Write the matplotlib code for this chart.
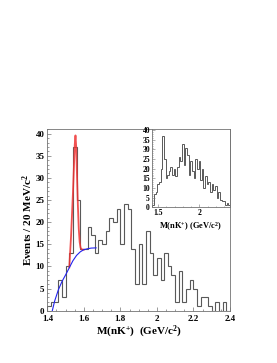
import numpy as np
import matplotlib
matplotlib.use("Agg")
import matplotlib.pyplot as plt
from matplotlib.ticker import MultipleLocator

plt.rcParams['font.family'] = ['Liberation Serif', 'DejaVu Serif']
plt.rcParams['font.weight'] = 'bold'
plt.rcParams['axes.labelweight'] = 'bold'
plt.rcParams['mathtext.fontset'] = 'custom'
plt.rcParams['mathtext.rm'] = 'Liberation Serif:bold'
plt.rcParams['mathtext.it'] = 'Liberation Serif:bold'
plt.rcParams['mathtext.bf'] = 'Liberation Serif:bold'

# main histogram, 20 MeV bins from 1.40 to 2.40
main_lo = 1.40
main_bin = 0.02
main_counts = [1, 2, 2, 7, 3, 10, 13, 37, 25, 14,
               14, 19, 17, 13, 16, 15, 18, 21, 20, 23,
               15, 24, 23, 14, 6, 15, 6, 18, 13, 8,
               12, 7, 13, 10, 8, 2, 9, 2, 5, 7,
               5, 1, 3, 3, 1, 0, 2, 0, 2, 0]

# inset histogram
inset_lo = 1.43
inset_bin = 0.02
inset_counts = [1, 7, 8, 12, 13, 20, 37, 25, 15, 17,
                19, 21, 17, 20, 16, 21, 26, 24, 33, 22,
                31, 27, 17, 24, 19, 15, 25, 20, 24, 14,
                20, 10, 16, 12, 13, 8, 12, 9, 11, 5,
                8, 4, 3, 3, 1, 2, 1]

# fit curves
sig_x = [1.520, 1.530, 1.540, 1.545, 1.550, 1.554, 1.558, 1.562,
         1.567, 1.572, 1.577, 1.582, 1.590, 1.600]
sig_y = [9.8, 17.0, 26.5, 32.0, 37.5, 39.6, 37.0, 31.0,
         24.0, 18.5, 15.5, 14.2, 13.8, 13.8]
bkg_x = [1.427, 1.44, 1.46, 1.48, 1.50, 1.52, 1.54, 1.56, 1.58,
         1.60, 1.62, 1.64, 1.667]
bkg_y = [0.0, 2.2, 4.7, 6.6, 8.1, 9.7, 11.3, 12.5, 13.3,
         13.8, 14.0, 14.15, 14.2]

hist_col = '0.35'
frame_col = '0.45'

fig = plt.figure(figsize=(2.77, 3.63), dpi=100)
ax = fig.add_axes([0.171, 0.144, 0.659, 0.500])

edges = main_lo + main_bin * np.arange(len(main_counts) + 1)
ax.stairs(main_counts, edges, color=hist_col, lw=0.8, baseline=0)
ax.plot(sig_x, sig_y, color='#ee3333', lw=1.3, alpha=0.85)
ax.plot(bkg_x, bkg_y, color='#2222ee', lw=0.8)

ax.set_xlim(1.4, 2.4)
ax.set_ylim(0, 41)
ax.xaxis.set_major_locator(MultipleLocator(0.2))
ax.xaxis.set_minor_locator(MultipleLocator(0.05))
ax.yaxis.set_major_locator(MultipleLocator(5))
ax.yaxis.set_minor_locator(MultipleLocator(1))
ax.xaxis.set_major_formatter(plt.FuncFormatter(lambda v, p: ('%g' % round(v, 2))))
ax.tick_params(which='both', direction='in', color=frame_col, width=0.5,
               labelsize=6.5)
ax.tick_params(axis='x', pad=3)
ax.tick_params(axis='y', pad=2)
ax.tick_params(which='major', length=3)
ax.tick_params(which='minor', length=1.5)
for lab in ax.get_xticklabels() + ax.get_yticklabels():
    lab.set_fontweight('bold')
for s in ax.spines.values():
    s.set_color(frame_col)
    s.set_linewidth(0.6)
ax.set_xlabel(r'M(nK$^{+}$)  (GeV/c$^{2}$)', fontsize=8, fontweight='bold',
              labelpad=0.5)
ax.set_ylabel(r'Events / 20 MeV/c$^{2}$', fontsize=8, fontweight='bold',
              labelpad=0.5)

# inset
ins = fig.add_axes([0.549, 0.429, 0.281, 0.215])
iedges = inset_lo + inset_bin * np.arange(len(inset_counts) + 1)
ins.stairs(inset_counts, iedges, color=hist_col, lw=0.7, baseline=0)
ins.set_xlim(1.427, 2.37)
ins.set_ylim(0, 40.5)
ins.xaxis.set_major_locator(MultipleLocator(0.5))
ins.xaxis.set_minor_locator(MultipleLocator(0.1))
ins.yaxis.set_major_locator(MultipleLocator(5))
ins.yaxis.set_minor_locator(MultipleLocator(1))
ins.xaxis.set_major_formatter(plt.FuncFormatter(lambda v, p: '%g' % round(v, 2)))
ins.tick_params(which='both', direction='in', color=frame_col, width=0.4,
                labelsize=5.5, pad=1.5)
ins.tick_params(which='major', length=2)
ins.tick_params(which='minor', length=1)
for lab in ins.get_xticklabels() + ins.get_yticklabels():
    lab.set_fontweight('bold')
for s in ins.spines.values():
    s.set_color(frame_col)
    s.set_linewidth(0.6)
ins.set_xlabel(r'M(nK$^{+}$) (GeV/c$^{2}$)', fontsize=6, fontweight='bold',
               labelpad=2)

fig.savefig('out.png', dpi=100)
